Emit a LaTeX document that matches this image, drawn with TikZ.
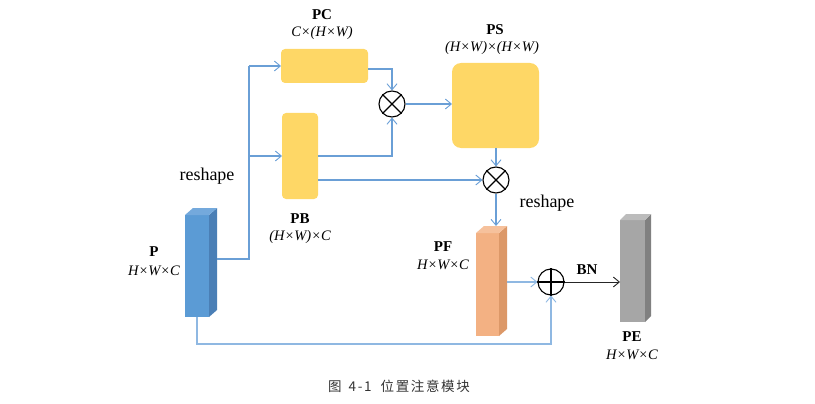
\documentclass[tikz,border=0pt]{standalone}
\usepackage{fontspec}
\setmainfont{Liberation Serif}
\newfontfamily\cjk[LetterSpace=12]{Noto Sans CJK SC}
\usetikzlibrary{arrows.meta,calc}
\definecolor{lblue}{HTML}{6A9FD6}
\definecolor{llblue}{HTML}{8FB8E2}
\definecolor{gold}{HTML}{FED766}
\definecolor{pfront}{HTML}{5B9BD5}
\definecolor{pside}{HTML}{4A7FB6}
\definecolor{ptop}{HTML}{74A9DC}
\definecolor{ofront}{HTML}{F3B183}
\definecolor{oside}{HTML}{DC9868}
\definecolor{otop}{HTML}{F6C19C}
\definecolor{gfront}{HTML}{A6A6A6}
\definecolor{gside}{HTML}{808080}
\definecolor{gtop}{HTML}{BCBCBC}
\tikzset{
  face/.style={inner sep=0pt, outer sep=0pt, draw=none},
  goldbox/.style={face, fill=gold, rounded corners=4pt},
  opnode/.style={circle, draw=black, line width=1.1pt, fill=white, minimum size=26pt, inner sep=0pt},
  conn/.style={draw=lblue, line width=1.1pt, -{Straight Barb[length=6pt,width=10pt,line width=0.9pt]}},
  plain/.style={draw=lblue, line width=1.1pt},
  lblname/.style={font=\bfseries\fontsize{15}{15}\selectfont, inner sep=0pt},
  dims/.style={font=\itshape\fontsize{14.5}{14.5}\selectfont, inner sep=0pt},
  word/.style={font=\fontsize{18}{18}\selectfont, inner sep=0pt},
}
\begin{document}
\begin{tikzpicture}[x=1pt,y=-1pt]
\useasboundingbox (0,0) rectangle (815,404);
% P cuboid
\node[face, fill=pfront, minimum width=24pt, minimum height=102pt] (P) at (197,266) {};
\fill[pside] (P.north east) -- ++(8,-7) -- ++(0,102) -- (P.south east) -- cycle;
\fill[ptop] (P.north west) -- ++(8,-7) -- ++(24,0) -- (P.north east) -- cycle;
% PF cuboid
\node[face, fill=ofront, minimum width=23pt, minimum height=103pt] (PF) at (487.5,284.5) {};
\fill[oside] (PF.north east) -- ++(8,-7) -- ++(0,103) -- (PF.south east) -- cycle;
\fill[otop] (PF.north west) -- ++(8,-7) -- ++(23,0) -- (PF.north east) -- cycle;
% PE cuboid
\node[face, fill=gfront, minimum width=25pt, minimum height=102pt] (PE) at (632.5,271) {};
\fill[gside] (PE.north east) -- ++(6,-6) -- ++(0,102) -- (PE.south east) -- cycle;
\fill[gtop] (PE.north west) -- ++(6,-6) -- ++(25,0) -- (PE.north east) -- cycle;
% gold boxes
\node[goldbox, minimum width=87pt, minimum height=34pt] (PC) at (324.5,66) {};
\node[goldbox, minimum width=36pt, minimum height=86pt] (PB) at (300,156) {};
\node[goldbox, rounded corners=9pt, minimum width=87pt, minimum height=85pt] (PS) at (495.5,105.5) {};
% operators
\node[opnode] (M1) at (392,104) {};
\node[opnode] (M2) at (496,180) {};
\node[opnode] (A) at (551,282) {};
\draw[line width=1.1pt] (M1.north west) -- (M1.south east) (M1.north east) -- (M1.south west);
\draw[line width=1.1pt] (M2.north west) -- (M2.south east) (M2.north east) -- (M2.south west);
\draw[line width=1.1pt] (A.north) -- (A.south) (A.west) -- (A.east);
% helper coordinates
\coordinate (Pr) at ($(P.east)+(8,-7)$);
\coordinate (bx) at (249,0);
\coordinate (PFr) at ($(PF.east)+(8,0)$);
\coordinate (PFt) at ($(PF.north)+(0,-7)$);
\coordinate (PEl) at (PE.west);
% connectors
\draw[plain] (Pr) -- (Pr -| bx) -- (bx |- PC.west);
\draw[conn] (bx |- PC.west) -- (PC.west);
\draw[conn] (bx |- PB.west) -- (PB.west);
\draw[conn] ([yshift=-3]PC.east) -| (M1.north);
\draw[conn] (PB.east) -| (M1.south);
\draw[conn] (M1.east) -- (M1 -| PS.west);
\draw[conn] (PB.east |- M2) -- (M2.west);
\draw[conn] (PS.south -| M2) -- (M2.north);
\draw[conn] (M2.south) -- (M2 |- PFt);
\draw[conn, draw=llblue, line width=2pt] (PFr |- A) -- (A.west);
\draw[conn, draw=llblue] (P.south) -- ++(0,27) -| (A.south);
\draw[draw=black!85, line width=1pt, -{Straight Barb[length=6pt,width=10pt,line width=0.9pt]}] (A.east) -- (A -| PEl);
% labels
\node[lblname] (tPC) at (322,15) {PC};
\node[dims] (dPC) at (322,33) {C×(H×W)};
\node[lblname] (tPS) at (495,30) {PS};
\node[dims] (dPS) at (492,48) {(H×W)×(H×W)};
\node[lblname] (tPB) at (300,219) {PB};
\node[dims] (dPB) at (300,237) {(H×W)×C};
\node[lblname] (tP) at (154,252) {P};
\node[dims] (dP) at (154,271) {H×W×C};
\node[lblname] (tPF) at (443,247) {PF};
\node[dims] (dPF) at (443,265) {H×W×C};
\node[lblname] (tPE) at (632,337) {PE};
\node[dims] (dPE) at (632,355) {H×W×C};
\node[word] (r1) at (207,176) {reshape};
\node[word] (r2) at (547,203) {reshape};
\node[lblname, font=\bfseries\fontsize{15}{15}\selectfont] (bn) at (587,270) {BN};
\node[inner sep=0pt, text=black!80, font=\cjk\fontsize{13.5}{13.5}\selectfont] (cap) at (399,386) {图\hbox to 7pt{}4-1\hbox to 9pt{}位置注意模块};
\end{tikzpicture}
\end{document}
